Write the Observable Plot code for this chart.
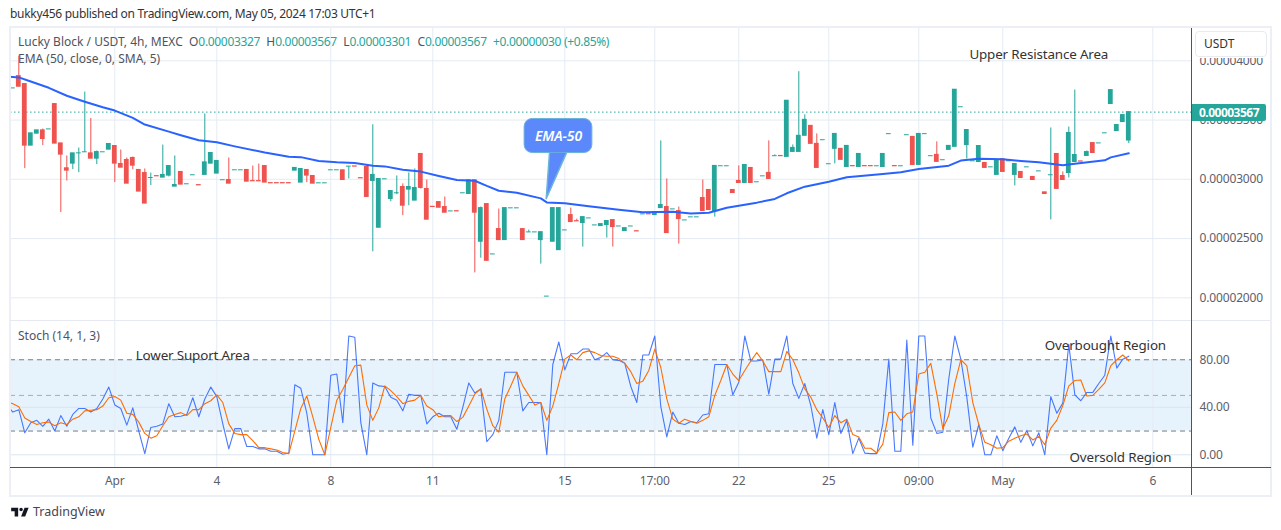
<!DOCTYPE html>
<html><head><meta charset="utf-8">
<script src="https://cdn.jsdelivr.net/npm/d3@7"></script>
<script src="https://cdn.jsdelivr.net/npm/@observablehq/plot@0.6"></script>
<style>
html,body{margin:0;background:#fff;}
body{width:1281px;height:530px;position:relative;overflow:hidden;font-family:"Noto Sans",sans-serif;color:#131722;}
.abs{position:absolute;white-space:pre;}
svg{display:block;}
#top,#bottom{position:absolute;left:0;}
#top{top:27px;}#bottom{top:320px;}
.t{color:#26a69a;letter-spacing:-.33px}
</style></head><body>
<div class="abs" style="left:10px;top:6px;font-size:12px;letter-spacing:-.3px;line-height:16px;color:#333">bukky456 published on TradingView.com, May 05, 2024 17:03 UTC+1</div>
<div id="top"></div><div id="bottom"></div>
<div class="abs" style="left:18px;top:34px;font-size:12px;line-height:16px;color:#50535e">Lucky Block / USDT, 4h, MEXC  O<span class="t">0.00003327</span>  H<span class="t">0.00003567</span>  L<span class="t">0.00003301</span>  C<span class="t">0.00003567</span>  <span class="t">+0.00000030 (+0.85%)</span></div>
<div class="abs" style="left:18px;top:51px;font-size:12px;line-height:16px;color:#50535e">EMA (50, close, 0, SMA, 5)</div>
<div class="abs" style="left:18px;top:328px;font-size:12px;line-height:16px;color:#50535e">Stoch (14, 1, 3)</div>
<!-- chrome -->
<div class="abs" style="left:9px;top:26px;width:1259px;height:467px;border:2px solid #eceff6"></div>
<div class="abs" style="left:10px;top:320px;width:1260px;height:1px;background:#e6e9f2"></div>
<div class="abs" style="left:10px;top:467px;width:1261px;height:1px;background:#50535e"></div>
<div class="abs" style="left:1191px;top:28px;width:1px;height:467px;background:#50535e"></div>
<div class="abs" style="left:1192px;top:28px;width:78px;height:30px;background:#fff"></div>
<div class="abs" style="left:1195px;top:31px;width:70px;height:24px;border:1px solid #e8ebf2;border-radius:4px;font-size:12px;line-height:24px;text-indent:8px;color:#333">USDT</div>
<div class="abs" id="last" style="left:1192px;top:104px;width:74px;height:17px;background:#26a69a;color:#fff;font-size:12px;font-weight:700;letter-spacing:-.5px;line-height:17px;text-align:center;border-radius:0 2px 2px 0"></div>
<!-- footer -->
<svg class="abs" style="left:10px;top:505px" width="21" height="14" viewBox="0 4 36 19"><path fill="#131722" d="M14 6H2v6h6v9h6V6Zm12 15h-7l6-15h7l-6 15Zm-7-9a3 3 0 1 0 0-6 3 3 0 0 0 0 6Z"/></svg>
<div class="abs" style="left:33px;top:504px;font-size:12.5px;line-height:16px;color:#434651">TradingView</div>
<script>
const opens=[
3767,3871,3804,3284,3385,3413,3421,3635,3303,3093,
3132,3219,3228,3219,3174,3228,3250,3281,3129,3163,
3180,3079,3053,3011,3027,3014,3031,2938,3062,2958,
3034,2951,3037,3132,3048,2992,2994,3076,3076,3079,
2985,2985,3112,2968,2968,2968,2968,3073,2972,3079,
3028,2966,2966,3076,3076,3076,3107,3109,3010,3104,
2986,2591,3000,2834,2882,2935,2913,2820,3214,2918,
2768,2808,2766,2729,2731,2882,2876,2992,2473,2791,
2366,2580,2487,2755,2755,2580,2552,2552,2487,2010,
2473,2402,2569,2698,2647,2631,2670,2611,2605,2614,
2656,2602,2563,2602,2562,2704,2706,2698,2757,2766,
2746,2732,2653,2679,2679,2842,2910,2732,3110,3110,
2910,2986,2969,3096,2975,3025,3054,3195,3197,3189,
3231,3231,3367,3451,3299,3330,3127,3257,3257,3104,
3112,3104,3112,3112,3110,3104,3381,3112,3110,3372,
3358,3121,3381,3195,3206,3161,3248,3274,3608,3289,
3152,3146,3138,3101,3037,3169,3152,3037,3062,3101,
3020,3067,2890,3034,3214,3028,3053,3146,3151,3197,
3306,3303,3388,3635,3407,3483,3327];
const highs=[
3767,4040,3804,3388,3413,3424,3421,3635,3303,3197,
3219,3264,3736,3514,3239,3228,3298,3281,3247,3180,
3188,3079,3087,3053,3027,3289,3112,3197,3062,2958,
3034,2951,3551,3222,3155,2992,3180,3076,3076,3079,
3112,3129,3112,2968,2968,2968,2968,3096,3087,3079,
3028,2966,2966,3076,3076,3076,3107,3109,3010,3116,
3460,3003,3000,2901,3028,2961,3054,3087,3214,2994,
2768,2808,2851,2729,2731,2882,2992,2992,2766,2791,
2366,2749,2757,2755,2755,2580,2571,2552,2554,2010,
2757,2757,2569,2757,2664,2681,2670,2611,2622,2648,
2656,2602,2588,2602,2562,2704,2706,2724,3324,3003,
2746,2766,2653,2679,2679,2994,2910,3113,3110,3110,
2910,3113,3121,3096,2975,3025,3324,3206,3197,3663,
3290,3908,3544,3451,3383,3330,3127,3383,3257,3282,
3112,3214,3112,3112,3110,3214,3381,3112,3110,3372,
3358,3383,3381,3195,3316,3161,3282,3756,3608,3416,
3152,3281,3138,3101,3155,3169,3152,3129,3062,3101,
3020,3067,2890,3433,3214,3062,3441,3753,3151,3239,
3306,3303,3388,3753,3458,3542,3567];
const lows=[
3767,3781,3090,3284,3385,3284,3421,3301,2719,2986,
3081,3056,3228,3174,3124,3228,3250,2972,3098,2963,
3081,2896,2795,2947,3025,3014,3020,2938,2955,2958,
3034,2949,3037,3132,3048,2992,2963,3076,3076,2980,
2983,2983,2972,2966,2966,2966,2966,3073,2972,2972,
2963,2966,2966,3076,3076,2994,3003,3107,3008,2851,
2388,2591,3000,2811,2870,2693,2777,2820,2918,2659,
2766,2760,2718,2729,2729,2882,2876,2210,2334,2312,
2366,2487,2487,2755,2755,2487,2552,2552,2284,2010,
2473,2402,2569,2639,2645,2428,2670,2611,2605,2504,
2428,2602,2563,2602,2560,2704,2704,2698,2757,2546,
2746,2453,2653,2679,2679,2732,2741,2681,3110,3110,
2884,2969,2969,2969,2975,3025,3003,3195,3195,3189,
3231,3231,3367,3299,3096,3330,3127,3130,3164,3104,
3110,3104,3110,3110,3110,3104,3381,3110,3110,3372,
3121,3121,3381,3195,3147,3161,3248,3274,3608,3171,
3152,3146,3096,3101,3037,3062,3152,2944,3011,3101,
2994,3067,2876,2657,2919,2994,3011,3146,3149,3197,
3222,3303,3388,3635,3407,3483,3301];
const closes=[
3767,3781,3284,3388,3413,3340,3421,3301,3208,3073,
3219,3219,3228,3174,3230,3228,3298,3132,3098,2963,
3115,2896,2795,3011,3025,3037,3112,2952,2955,2958,
3034,2949,3143,3222,3155,2992,2963,3076,3076,2980,
2983,2983,2972,2966,2966,2966,2966,3096,3087,3031,
2963,2966,2966,3076,3076,2994,3107,3107,3008,2851,
3037,3003,3000,2901,2882,2777,2935,2927,2927,2659,
2766,2760,2718,2729,2729,2882,2992,2718,2757,2312,
2366,2487,2757,2755,2755,2487,2552,2552,2554,2010,
2757,2757,2569,2639,2645,2681,2670,2611,2622,2648,
2597,2602,2588,2602,2560,2704,2704,2724,2783,2546,
2746,2664,2653,2679,2679,2732,2741,3113,3110,3110,
2884,2969,3121,2969,2975,3025,3003,3195,3195,3663,
3265,3367,3502,3299,3096,3330,3127,3383,3164,3282,
3110,3214,3110,3110,3110,3214,3381,3110,3110,3372,
3121,3383,3381,3195,3147,3161,3282,3756,3608,3416,
3152,3281,3096,3101,3155,3062,3152,3129,3011,3101,
2994,3067,2876,3034,2919,2994,3391,3205,3149,3230,
3222,3303,3388,3753,3458,3542,3567];
const emaBars=[-1,1,3,6,9,12,15,17,20,22,26,28,31,34,37,42,46,48,51,54,57,60,62,65,68,71,74,77,79,81,84,88,89,92,96,101,105,110,113,116,119,121,124,127,129,132,136,139,145,148,151,156,158,161,165,168,171,175,177,182,183,186];
const emaValues=[3866,3860,3825,3772,3705,3655,3608,3580,3518,3462,3402,3372,3330,3312,3278,3226,3190,3187,3155,3144,3138,3115,3109,3080,3065,3028,2994,2988,2944,2903,2887,2839,2805,2797,2772,2743,2722,2726,2712,2718,2760,2777,2803,2834,2882,2938,2980,3017,3044,3059,3087,3115,3158,3174,3169,3155,3143,3118,3132,3160,3185,3219];
const stochK=[
42,36,38,18.5,27,29,24,30,20,33,24,
34,39,39,36,39,47,57,42,39,25,
39.5,20,1,23,24,26,43,32,32.5,34,
48,32,47,57,49,26,5,22,22,7,
7,5,5,3,3,0.5,1.5,59,56,35,
0,0,0,67,68,27,100,99,27,0,
60.5,58,57.5,48.5,46,37,51,50,50,26,
32,35,32,32,21.5,40,60.5,52,55.5,11,
17,29,69.5,69.5,69.5,37,44,44,44,0,
76,95,71.5,85,85,89,89,80,82,86,
80,79.5,77,57.5,44,84,84,100,40.5,15,
36,26.5,25.5,28,27,33.5,34.5,76,76,76,
50.5,61,100,79,79,80,51,80.5,80.5,100,
60,47.5,60,41.5,14,38,17,44,18,29,
1,14,1.4,1,1,26,80.5,3,3,96.5,
8,100,100,31,18,19,64,100,80.5,48.5,
6.5,25.5,0,0,16,3.5,14,23.5,10.5,20.5,
7.5,18.5,0,49,35,43.5,93,50.5,45.5,52.5,
52.5,60,67,100,73,80.5,83];
const stochD=[
45,43,40.5,31,28,25.5,27,27.5,24.5,27,25.5,
30,32,37,37.5,38,41,48,49,46,35,
34,27.5,18,14,16,24.5,32,34,35.5,33,
38,38,43,45.5,50.5,44,26,18,17,17,
12,6,6,5,4,2,1,20,39,49.5,
32,13,0,23,46,55,65,75,75.5,42,
29,39.5,58,54,49,43,45,46,50,41,
38,32,33,33,28,31.5,41,51,55.5,38.5,
24.5,19,47,58,69.5,58,50,42,44,29,
41,60,80.5,84,80,86,87.5,86,83.5,83,
83,81,77,70,60,62,71,89,73.5,47,
30,26.5,30,28,26.5,29,32,50,62.5,76,
68,62.5,71,79,86,79,70,70,70,87,
80,69,55.5,48.5,38,31,23,33,27,30,
17,15,5.5,5.5,1.5,9,35.5,36,29,34.5,
36,68,69.5,77,51,22,33,60,80,75,
44,25.5,10.5,8.5,5.5,6,11.5,14,16,17.5,
12.5,15.5,8.5,22.5,29,41.5,58,62.5,63,49.5,
50,55,60.5,75,80,84,79];
const timeBars=[17,34,53,70,92,107,121,136,151,165,190];
const timeLabels=["Apr","4","8","11","15","17:00","22","25","09:00","May","6"];
const priceTicks=[2000,2500,3000,3500,4000];
const stochTicks=[0,40,80];
const lastClose=3567;
const bars=opens.map((o,i)=>({i,o,h:highs[i],l:lows[i],c:closes[i]}));
const up=bars.filter(d=>d.c>=d.o), down=bars.filter(d=>d.c<d.o);
const TEAL="#26a69a",RED="#ef5350",GRID="#e4ecf4",AXIS="#5d606b";
const FONT='"Noto Sans",sans-serif';
const xDomain=[-0.383,196.45];
const fmtPrice=d=>(d/1e8).toFixed(8);
document.getElementById("last").textContent=fmtPrice(lastClose);
const xOpts={domain:xDomain};
const halfBody=0.4;
const chartStyle={fontFamily:FONT,fontSize:"12px",letterSpacing:"-0.15px",background:"transparent",overflow:"visible"};
const topChart=Plot.plot({
  width:1281,height:293,marginLeft:10,marginRight:90,marginTop:0,marginBottom:0,
  style:chartStyle,
  x:xOpts,
  y:{domain:[2000,4000],range:[270.3,33.3]},
  marks:[
    Plot.gridX({ticks:timeBars,stroke:GRID,strokeOpacity:1}),
    Plot.gridY({ticks:priceTicks,stroke:GRID,strokeOpacity:1}),
    Plot.ruleY([lastClose],{stroke:TEAL,strokeDasharray:"1.5,2.5"}),
    Plot.axisY({anchor:"right",ticks:priceTicks,tickFormat:fmtPrice,tickSize:0,tickPadding:8,label:null,fill:AXIS}),
    Plot.axisX({ticks:[],label:null,tickSize:0}),
    Plot.ruleX(up,{x:"i",y1:"l",y2:"h",stroke:TEAL}),
    Plot.ruleX(down,{x:"i",y1:"l",y2:"h",stroke:RED}),
    Plot.rect(up,{x1:d=>d.i-halfBody,x2:d=>d.i+halfBody,y1:"o",y2:"c",fill:TEAL,insetTop:-0.5,insetBottom:-0.5}),
    Plot.rect(down,{x1:d=>d.i-halfBody,x2:d=>d.i+halfBody,y1:"o",y2:"c",fill:RED,insetTop:-0.5,insetBottom:-0.5}),
    Plot.line(emaBars.map((i,k)=>({i,v:emaValues[k]})),{x:"i",y:"v",stroke:"#2962ff",strokeWidth:2,curve:"linear",clip:true}),
    Plot.rect([{x1:85.3,x2:96.6,y1:3509,y2:3222}],{x1:"x1",x2:"x2",y1:"y1",y2:"y2",rx:8,fill:"#5b88fa",stroke:"#6cb5d8"}),
    Plot.line([{i:89.45,v:3225},{i:88.9,v:2836},{i:92.3,v:3225}],{x:"i",y:"v",fill:"#5b88fa",stroke:"#6cb5d8"}),
    Plot.text(["EMA-50"],{x:[90.95],y:[3365],fill:"#fff",fontStyle:"italic",fontWeight:600,fontSize:14}),
    Plot.text(["Upper Resistance Area"],{x:[171],y:[4050],fill:"#333",fontSize:13.4})
  ]
});
document.getElementById("top").append(topChart);
const bottomChart=Plot.plot({
  width:1281,height:177,marginLeft:10,marginRight:90,marginTop:0,marginBottom:30,
  style:chartStyle,
  x:xOpts,
  y:{domain:[0,100],range:[134.3,15.5]},
  marks:[
    Plot.rect([{a:80,b:20}],{x1:xDomain[0],x2:xDomain[1],y1:"a",y2:"b",fill:"#e6f3fd"}),
    Plot.gridX({ticks:timeBars,stroke:GRID,strokeOpacity:1}),
    Plot.gridY({ticks:[0,40],stroke:"#dbe6f0",strokeOpacity:1}),
    Plot.ruleY([80,20],{stroke:"#787b86",strokeDasharray:"5,4"}),
    Plot.ruleY([50],{stroke:"#a8abb4",strokeDasharray:"5,4"}),
    Plot.axisY({anchor:"right",ticks:stochTicks,tickFormat:d=>d.toFixed(2),tickSize:0,tickPadding:8,label:null,fill:AXIS}),
    Plot.axisX({ticks:timeBars,tickFormat:d=>timeLabels[timeBars.indexOf(d)],tickSize:0,tickPadding:9,label:null,fill:AXIS}),
    Plot.line(stochK,{x:(d,i)=>i-1,y:d=>d,stroke:"#2962ff",strokeOpacity:0.85,strokeWidth:1.1,clip:true}),
    Plot.line(stochD,{x:(d,i)=>i-1,y:d=>d,stroke:"#ff6d00",strokeWidth:1.1,clip:true}),
    Plot.text(["Lower Suport Area"],{x:[30],y:[83],fill:"#333",fontSize:13.4}),
    Plot.text(["Overbought Region"],{x:[182.1],y:[92],fill:"#333",fontSize:13.4}),
    Plot.text(["Oversold Region"],{x:[184.6],y:[-2.5],fill:"#333",fontSize:13.4})
  ]
});
document.getElementById("bottom").append(bottomChart);
</script>
</body></html>
